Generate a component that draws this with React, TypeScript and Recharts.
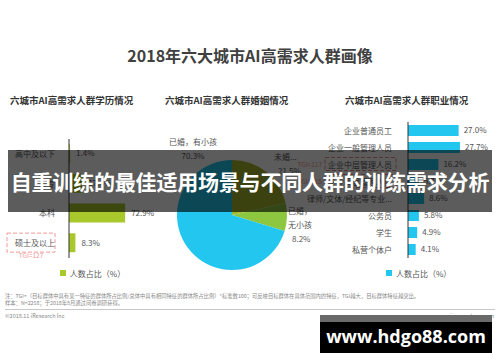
import React from "react";
import {
  BarChart,
  Bar,
  XAxis,
  YAxis,
  LabelList,
  Legend,
  PieChart,
  Pie,
  Cell,
} from "recharts";

const FONT = '"Noto Sans CJK SC", "Noto Sans", sans-serif';

// 学历
const eduCats = ["高中及以下", "大专", "本科", "硕士及以上"];
const eduValues = [1.4, 17.4, 72.9, 8.3];
const eduTgi: Record<string, number> = { 硕士及以上: 127 };

// 婚姻
const marriageNames = ["未婚", "已婚，无小孩", "已婚，有小孩"];
const marriageValues = [21.5, 8.2, 70.3];

// 职业
const jobCats = [
  "企业普通员工",
  "企业一般管理人员",
  "企业中层管理人员",
  "企业高层管理人员",
  "律师/文体/经纪等专业...",
  "公务员",
  "学生",
  "私营个体户",
];
const jobValues = [27.0, 27.7, 16.2, 5.7, 8.6, 5.8, 4.9, 4.1];
const jobTgi: Record<string, number> = { 企业中层管理人员: 117, 企业高层管理人员: 115 };

const GREEN = "#a8c82c";
const CYAN = "#22c6ef";
const PIE_COLORS = ["#a3b52a", "#8dc63f", CYAN];

const eduData = eduCats.map((name, i) => ({ name, value: eduValues[i] }));
const jobData = jobCats.map((name, i) => ({ name, value: jobValues[i] }));
const marriageData = marriageNames.map((name, i) => ({ name, value: marriageValues[i] }));

const pct = (v: number) => `${v.toFixed(1)}%`;

function EduTick(props: any) {
  const { x, y, payload } = props;
  const tgi = eduTgi[payload.value];
  return (
    <g>
      {tgi && (
        <>
          <rect x={x - 54} y={y - 10} width={48} height={19} fill="none" stroke="#f19a9a" strokeDasharray="4 2" strokeWidth={1} />
          <text x={x - 30} y={y + 15} textAnchor="middle" fontSize={6.5} fill="#f19a9a">{`TGI=${tgi}`}</text>
        </>
      )}
      <text x={x - 6} y={y} dy={3} textAnchor="end" fontSize={8} fill="#555">{payload.value}</text>
    </g>
  );
}

function JobTick(props: any) {
  const { x, y, payload } = props;
  const tgi = jobTgi[payload.value];
  return (
    <g>
      {tgi && (
        <>
          <rect x={x - 75} y={y - 7} width={71} height={13} fill="none" stroke="#e58a8a" strokeDasharray="4 2" strokeWidth={1} />
          <text x={x - 78} y={y} dy={2.5} textAnchor="end" fontSize={6.5} fill="#f19a9a">{`TGI=${tgi}`}</text>
        </>
      )}
      <text x={x - 8} y={y} dy={3} textAnchor="end" fontSize={8} fill="#555">{payload.value}</text>
    </g>
  );
}

// label anchors relative to pie centre
const pieLabelPos: Record<string, { dx: number; dy: number; anchor: string; lines: string[] }> = {
  未婚: { dx: 42, dy: -55, anchor: "start", lines: ["未婚..."] },
  "已婚，无小孩": { dx: 56, dy: -1, anchor: "start", lines: ["已婚，", "无小孩"] },
  "已婚，有小孩": { dx: -39, dy: -70, anchor: "middle", lines: ["已婚，有小孩"] },
};

function PieLabel(props: any) {
  const { cx, cy, name, value } = props;
  const p = pieLabelPos[name];
  if (!p) return null;
  const lines = [...p.lines, pct(value)];
  return (
    <text x={cx + p.dx} y={cy + p.dy} textAnchor={p.anchor as any} fontSize={8} fill="#555">
      {lines.map((l, i) => (
        <tspan key={i} x={cx + p.dx + (i === lines.length - 1 && p.anchor === "start" ? 4 : 0)} dy={i === 0 ? 0 : 14}>
          {l}
        </tspan>
      ))}
    </text>
  );
}

const legendFmt = (v: string) => <span style={{ color: "#555", fontSize: 8 }}>{v}</span>;

export default function App() {
  return (
    <div
      style={{
        position: "absolute",
        left: 0,
        top: 0,
        width: 500,
        height: 362,
        background: "#fff",
        overflow: "hidden",
        fontFamily: FONT,
      }}
    >
      <div style={{ position: "absolute", left: 0, width: 500, top: 43, textAlign: "center", fontSize: 16, fontWeight: 700, color: "#404040" }}>
        2018年六大城市AI高需求人群画像
      </div>
      <div style={{ position: "absolute", left: 10, top: 93, fontSize: 9.5, fontWeight: 700, color: "#333" }}>六城市AI高需求人群学历情况</div>
      <div style={{ position: "absolute", left: 165, top: 93, fontSize: 9.5, fontWeight: 700, color: "#333" }}>六城市AI高需求人群婚姻情况</div>
      <div style={{ position: "absolute", left: 345, top: 93, fontSize: 9.5, fontWeight: 700, color: "#333" }}>六城市AI高需求人群职业情况</div>

      <div style={{ position: "absolute", left: 0, top: 130 }}>
        <BarChart width={170} height={150} layout="vertical" data={eduData} margin={{ top: 9, right: 24, bottom: 0, left: 0 }} style={{ fontFamily: FONT }}>
          <XAxis type="number" domain={[0, 100]} hide />
          <YAxis type="category" dataKey="name" width={69} axisLine={{ stroke: "#333" }} tickLine={false} tick={<EduTick />} interval={0} />
          <Legend verticalAlign="bottom" height={22} iconType="square" iconSize={6} formatter={legendFmt} wrapperStyle={{ left: 55, width: 85 }} payload={[{ value: "人数占比（%）", type: "square", color: GREEN }]} />
          <Bar dataKey="value" name="人数占比（%）" fill={GREEN} barSize={19} isAnimationActive={false}>
            <LabelList dataKey="value" position="right" offset={6} formatter={(v: any) => pct(Number(v))} style={{ fontSize: 8, fill: "#555" }} />
          </Bar>
        </BarChart>
      </div>

      <div style={{ position: "absolute", left: 160, top: 130 }}>
        <PieChart width={170} height={150} style={{ fontFamily: FONT }}>
          <Pie
            data={marriageData}
            dataKey="value"
            nameKey="name"
            cx={67}
            cy={80}
            outerRadius={55}
            startAngle={90}
            endAngle={-270}
            stroke="none"
            labelLine={false}
            label={<PieLabel />}
            isAnimationActive={false}
          >
            {marriageData.map((d, i) => (
              <Cell key={d.name} fill={PIE_COLORS[i]} />
            ))}
          </Pie>
        </PieChart>
      </div>

      <div style={{ position: "absolute", left: 288, top: 113 }}>
        <BarChart width={212} height={167} layout="vertical" data={jobData} margin={{ top: 9, right: 17, bottom: 0, left: 0 }} style={{ fontFamily: FONT }}>
          <XAxis type="number" domain={[0, 40]} hide />
          <YAxis type="category" dataKey="name" width={120} axisLine={{ stroke: "#333" }} tickLine={false} tick={<JobTick />} interval={0} />
          <Legend verticalAlign="bottom" height={22} iconType="square" iconSize={6} formatter={legendFmt} wrapperStyle={{ left: 98, width: 75 }} payload={[{ value: "人数占比（%）", type: "square", color: CYAN }]} />
          <Bar dataKey="value" name="人数占比（%）" fill={CYAN} barSize={11} isAnimationActive={false}>
            <LabelList dataKey="value" position="right" offset={5} formatter={(v: any) => pct(Number(v))} style={{ fontSize: 8, fill: "#555" }} />
          </Bar>
        </BarChart>
      </div>

      <div style={{ position: "absolute", left: 5, top: 293, fontSize: 5.3, lineHeight: "7px", color: "#888", whiteSpace: "nowrap" }}>
        注：TGI=（目标群体中具有某一特征的群体所占比例/总体中具有相同特征的群体所占比例）*标准数100；可反映目标群体在具体范围内的特征，TGI越大，目标群体特征越突出。
        <br />
        样本：N=2258；于2018年8月通过问卷调研获得。
      </div>
      <div style={{ position: "absolute", left: 5, right: 5, top: 309, height: 1, background: "#c8c8c8" }} />
      <div style={{ position: "absolute", left: 5, top: 312, fontSize: 5.5, color: "#888" }}>©2018.11 iResearch Inc</div>
      <div style={{ position: "absolute", right: 6, top: 312, fontSize: 5.5, color: "#888" }}>www.iresearch.com.cn</div>

      <div
        style={{
          position: "absolute",
          left: 8,
          top: 150,
          width: 484,
          height: 62,
          background: "rgba(0,0,0,0.64)",
          color: "#fff",
          fontSize: 21,
          fontWeight: 700,
          lineHeight: "62px",
          textAlign: "center",
          whiteSpace: "nowrap",
          letterSpacing: -0.2,
        }}
      >
        自重训练的最佳适用场景与不同人群的训练需求分析
      </div>

      <div style={{ position: "absolute", left: 320, top: 315, width: 172, height: 38, background: "#000" }}>
        <div style={{ height: 7, background: "#6a6a6a" }} />
        <div style={{ color: "#fff", fontSize: 18, fontWeight: 700, textAlign: "center", lineHeight: "29px", fontFamily: '"Open Sans", "DejaVu Sans", sans-serif' }}>
          www.hdgo88.com
        </div>
      </div>
    </div>
  );
}
